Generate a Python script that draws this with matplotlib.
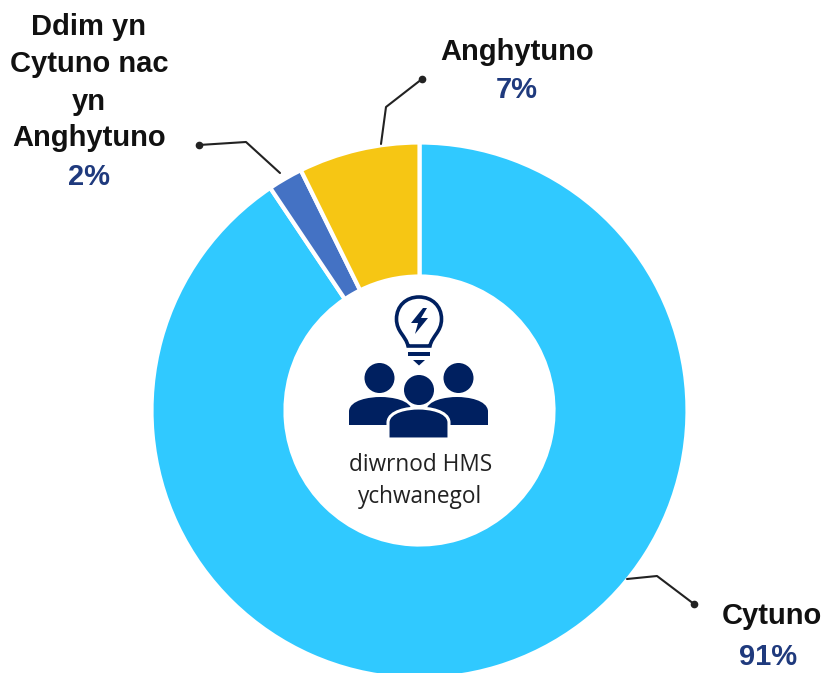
import matplotlib
matplotlib.use("Agg")
from matplotlib import pyplot as plt
from matplotlib.patches import Circle, PathPatch, Polygon, Rectangle
from matplotlib.path import Path

categories = ["Cytuno", "Ddim yn\nCytuno nac\nyn\nAnghytuno", "Anghytuno"]
# slice sizes, the labels show them rounded
values = [90.6, 2.1, 7.3]
pct_labels = ["91%", "2%", "7%"]
colors = ["#30C9FF", "#4472C4", "#F6C614"]
center_text = ["diwrnod HMS", "ychwanegol"]

navy = "#002060"
label_blue = "#1F3A7D"
bold = dict(fontsize=21, fontweight="bold", family="Liberation Sans", ha="center", va="center")

fig = plt.figure(figsize=(8.24, 6.73), dpi=100)
ax = fig.add_axes([0, 0, 1, 1])

# donut, drawn in pixel coordinates of the picture (y axis is flipped, so start at -90)
ax.pie(values, colors=colors, startangle=-90, counterclock=True,
       center=(419.5, 410.5), radius=268,
       wedgeprops=dict(width=134, edgecolor="white", linewidth=3))
ax.set_xlim(0, 824)
ax.set_ylim(673, 0)
ax.set_aspect("equal")
ax.axis("off")

# leader lines
leaders = [
    ([627, 657, 694], [579, 576, 604]),
    ([280, 246, 199], [173, 142, 145]),
    ([381, 386, 422], [144, 107, 79]),
]
for xs, ys in leaders:
    ax.plot(xs, ys, color="#222222", lw=1.5, solid_capstyle="round")
    ax.plot(xs[-1], ys[-1], "o", color="#222222", ms=4.5)

# labels
ax.text(772, 615.5, categories[0], color="#111111", **bold)
ax.text(768, 657, pct_labels[0], color=label_blue, **bold)
for line, y in zip(categories[1].split("\n"), [27, 64, 102, 138]):
    ax.text(89, y, line, color="#111111", **bold)
ax.text(89, 177, pct_labels[1], color=label_blue, **bold)
ax.text(517, 52, categories[2], color="#111111", **bold)
ax.text(517, 90, pct_labels[2], color=label_blue, **bold)

ax.text(421, 465, center_text[0], fontsize=16.3, family="Open Sans", ha="center", va="center", color="#222222")
ax.text(420, 497, center_text[1], fontsize=16.3, family="Open Sans", ha="center", va="center", color="#222222")


def body(x0, x1, top, bottom):
    # rounded shoulders for the people icon
    w = x1 - x0
    verts = [(x0, bottom), (x0, top + 14), (x0 + 1, top + 3), (x0 + w * 0.32, top),
             (x0 + w * 0.5, top), (x1 - w * 0.32, top), (x1 - 1, top + 3), (x1, top + 14),
             (x1, bottom), (x0, bottom)]
    codes = [Path.MOVETO, Path.LINETO, Path.CURVE4, Path.CURVE4, Path.LINETO,
             Path.CURVE4, Path.CURVE4, Path.CURVE4, Path.LINETO, Path.CLOSEPOLY]
    return Path(verts, codes)


# people
ax.add_patch(PathPatch(body(349, 412, 397, 425), fc=navy, ec="none"))
ax.add_patch(PathPatch(body(426, 488, 397, 425), fc=navy, ec="none"))
ax.add_patch(PathPatch(body(388, 449, 408, 439), fc=navy, ec="white", lw=2.2))
ax.add_patch(Rectangle((386, 437.5), 65, 4, fc="white", ec="none"))
ax.add_patch(Circle((379.5, 378), 15, fc=navy, ec="none"))
ax.add_patch(Circle((458.5, 378), 15, fc=navy, ec="none"))
ax.add_patch(Circle((419, 390), 15, fc=navy, ec="none"))

# light bulb
bulb_verts = [(408, 346), (406, 336), (396.5, 332), (396.5, 319), (396.5, 306), (406, 297), (419, 297),
              (432, 297), (441.5, 306), (441.5, 319), (441.5, 332), (432, 336), (430, 346), (408, 346)]
bulb_codes = [Path.MOVETO] + [Path.CURVE4] * 12 + [Path.CLOSEPOLY]
ax.add_patch(PathPatch(Path(bulb_verts, bulb_codes), fc="white", ec=navy, lw=2.6))
ax.add_patch(Rectangle((408, 352), 22, 4, fc=navy, ec="none"))
ax.add_patch(Polygon([(413, 360), (425, 360), (419, 365.5)], fc=navy, ec="none"))
ax.add_patch(Polygon([(423, 308), (411, 323), (418, 323), (415, 334), (428, 318), (421, 318), (427, 308)],
                     fc=navy, ec="none"))

plt.savefig("out.png", dpi=100)
